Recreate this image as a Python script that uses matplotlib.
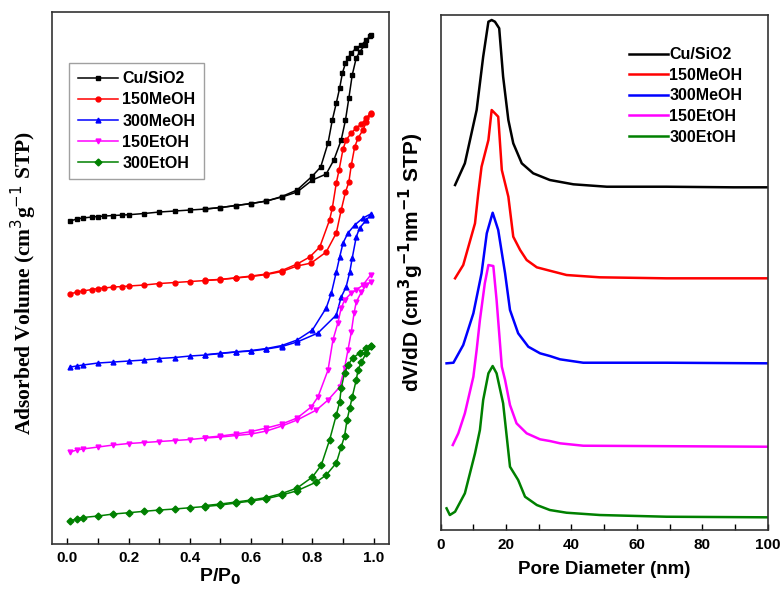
import numpy as np
import matplotlib
matplotlib.use('Agg')
import matplotlib.pyplot as plt

# ---- N2 isotherms (left), arbitrary units with vertical offsets ----
labels = ['Cu/SiO2', '150MeOH', '300MeOH', '150EtOH', '300EtOH']
colors = ['black', 'red', 'blue', 'magenta', 'green']
markers = ['s', 'o', '^', 'v', 'D']

cu_ads_x = [0.01, 0.03, 0.05, 0.08, 0.1, 0.12, 0.15, 0.18, 0.2, 0.25, 0.3, 0.35, 0.4, 0.45, 0.5, 0.55, 0.6,
            0.65, 0.7, 0.75, 0.8, 0.845, 0.87, 0.894, 0.908, 0.919, 0.93, 0.943, 0.954, 0.971, 0.987]
cu_ads_y = [323, 325, 326, 327, 327.5, 328, 328.5, 329, 329.3, 330.5, 332, 333, 334, 335, 336.5, 338.5, 340.5,
            343, 347, 352, 364, 370, 384, 404, 424, 446, 469, 486, 492, 499, 508]
cu_des_x = [0.992, 0.976, 0.96, 0.943, 0.927, 0.916, 0.908, 0.898, 0.889, 0.878, 0.865, 0.851, 0.827, 0.80,
            0.75, 0.7, 0.65, 0.6, 0.55, 0.5, 0.45]
cu_des_y = [509, 504, 499, 496, 491, 486, 481, 471, 456, 441, 424, 401, 377, 368,
            354, 347.5, 343, 340.5, 338.5, 336.5, 335]

m150_ads_x = [0.01, 0.03, 0.05, 0.08, 0.1, 0.12, 0.15, 0.18, 0.2, 0.25, 0.3, 0.35, 0.4, 0.45, 0.5, 0.55, 0.6,
              0.65, 0.7, 0.75, 0.796, 0.845, 0.878, 0.894, 0.908, 0.919, 0.927, 0.938, 0.949, 0.965, 0.976, 0.99]
m150_ads_y = [250, 252, 253, 254.5, 255.5, 256, 257, 257.5, 258, 259, 260.5, 261.5, 262.5, 263.5, 264.5, 266, 267.5,
              269.5, 272.5, 278, 281, 292, 311, 334, 352, 362, 379, 397, 406, 414, 422, 430]
m150_des_x = [0.99, 0.976, 0.96, 0.943, 0.927, 0.91, 0.9, 0.887, 0.878, 0.865, 0.856, 0.824, 0.791,
              0.75, 0.7, 0.65, 0.6, 0.55, 0.5, 0.45]
m150_des_y = [431, 426, 420, 416, 411, 404, 395, 374, 361, 336, 324, 297, 287,
              280, 273.5, 270, 268, 266.2, 264.7, 263.7]

m300_ads_x = [0.01, 0.03, 0.05, 0.1, 0.15, 0.2, 0.25, 0.3, 0.35, 0.4, 0.45, 0.5, 0.55, 0.6, 0.65, 0.7, 0.75,
              0.818, 0.878, 0.894, 0.91, 0.922, 0.93, 0.943, 0.954, 0.976, 0.99]
m300_ads_y = [177, 178, 179, 181, 182, 183, 184, 185.5, 186.5, 188, 189, 190.5, 192, 193, 195, 197.5, 202,
              211, 229, 247, 257, 272, 286, 307, 316, 324, 329]
m300_des_x = [0.99, 0.965, 0.938, 0.916, 0.90, 0.889, 0.878, 0.862, 0.845, 0.80, 0.75, 0.7, 0.65, 0.6,
              0.55, 0.5, 0.45]
m300_des_y = [330, 326, 319, 311, 301, 287, 272, 251, 236, 214, 204, 198.5, 195.5, 193.5,
              192.2, 190.8, 189.3]

e150_ads_x = [0.01, 0.03, 0.05, 0.1, 0.15, 0.2, 0.25, 0.3, 0.35, 0.4, 0.45, 0.5, 0.55, 0.6, 0.65, 0.7, 0.75,
              0.813, 0.851, 0.889, 0.905, 0.916, 0.927, 0.936, 0.943, 0.96, 0.976, 0.99]
e150_ads_y = [92, 94, 95, 97, 99, 100.5, 101.5, 102.5, 103.5, 104.5, 106, 107, 108.5, 110, 113, 118, 124,
              134, 144, 157, 176, 194, 212, 231, 242, 252, 259, 262]
e150_des_x = [0.99, 0.965, 0.943, 0.927, 0.905, 0.894, 0.883, 0.867, 0.851, 0.818, 0.796, 0.75, 0.7, 0.65,
              0.6, 0.55, 0.5, 0.45]
e150_des_y = [269, 259, 254, 251, 244, 236, 221, 204, 174, 147, 137, 126, 120, 116,
              112.5, 110, 108, 106.5]

e300_ads_x = [0.01, 0.03, 0.05, 0.1, 0.15, 0.2, 0.25, 0.3, 0.35, 0.4, 0.45, 0.5, 0.55, 0.6, 0.65, 0.7, 0.75,
              0.813, 0.845, 0.878, 0.894, 0.905, 0.913, 0.922, 0.93, 0.943, 0.949, 0.96, 0.976, 0.992]
e300_ads_y = [23.3, 25, 26.5, 28, 30, 31.3, 32.7, 34, 35, 36.3, 37.5, 39, 41, 43, 45.3, 49, 53.3,
              62, 69, 81, 97, 108, 124, 136, 147, 164, 174, 182, 191, 198]
e300_des_x = [0.992, 0.976, 0.954, 0.932, 0.916, 0.905, 0.894, 0.889, 0.878, 0.856, 0.829, 0.80, 0.75, 0.7,
              0.65, 0.6, 0.55, 0.5, 0.45]
e300_des_y = [198, 196, 191, 186, 179, 171, 156, 142, 129, 104, 79, 67, 56, 50.5,
              46.5, 44, 42, 40, 38.5]

iso = [(cu_ads_x, cu_ads_y, cu_des_x, cu_des_y),
       (m150_ads_x, m150_ads_y, m150_des_x, m150_des_y),
       (m300_ads_x, m300_ads_y, m300_des_x, m300_des_y),
       (e150_ads_x, e150_ads_y, e150_des_x, e150_des_y),
       (e300_ads_x, e300_ads_y, e300_des_x, e300_des_y)]

# ---- pore size distributions (right), arbitrary units with offsets ----
cu_d = [4.4, 7.4, 11.0, 13.0, 14.6, 15.6, 16.6, 17.9, 19.1, 20.7, 22.2, 24.8, 28.3, 33.4, 40.6, 50.8, 69, 89.5, 100]
cu_v = [345, 366.7, 420, 473.3, 508.3, 510, 508.3, 501.7, 453.3, 410, 386.7, 366.7, 356.7, 350, 345.7, 343.3,
        343.3, 342.7, 342.7]
m150_d = [4.4, 6.9, 10.5, 11.5, 12.5, 14.6, 15.6, 16.6, 17.6, 18.7, 20.2, 20.7, 22.2, 24.3, 26.3, 29.4, 33.4,
          38.5, 48.7, 69, 100]
m150_v = [251.7, 265, 306.7, 336.7, 363.3, 390, 420, 416.7, 413.3, 360, 340, 333.3, 293.3, 280, 270, 262.7,
          259.3, 255, 252.7, 251.7, 251.7]
m300_d = [1.8, 3.9, 6.9, 10.0, 12.5, 14.1, 15.9, 17.6, 19.7, 21.2, 23.7, 26.8, 30.4, 33.4, 36.5, 43.6, 69, 100]
m300_v = [166.7, 167.3, 185, 216.7, 256.7, 296.7, 317.3, 300, 256.7, 220, 196.7, 183.3, 176.7, 174, 170.7,
          167.3, 167.3, 166.7]
e150_d = [3.7, 5.4, 7.4, 10.0, 11.0, 12.0, 13.5, 14.6, 16.1, 17.1, 18.7, 19.7, 21.2, 23.2, 26.3, 30.4, 33.4,
          36.5, 43.6, 100]
e150_v = [85, 96.7, 116.7, 153.3, 180, 210, 246.7, 265, 264, 230, 163.3, 150, 125, 106.7, 96.7, 90.7, 89,
          86.7, 84.3, 83.3]
e300_d = [1.8, 2.8, 4.4, 7.4, 10.5, 12.0, 13.0, 14.6, 15.9, 17.1, 19.1, 21.2, 23.7, 25.8, 29.4, 33.4, 38.5,
          48.7, 69, 100]
e300_v = [21.7, 15, 18.3, 36.7, 76.7, 100, 130, 156.7, 164, 156.7, 126.7, 63.3, 50, 33.3, 25, 20, 17.3,
          15, 13.3, 12.7]

psd = [(cu_d, cu_v), (m150_d, m150_v), (m300_d, m300_v), (e150_d, e150_v), (e300_d, e300_v)]

fig = plt.figure(figsize=(7.83, 5.96), dpi=100)
ax1 = fig.add_axes([0.0664, 0.0872, 0.4304, 0.8926])
ax2 = fig.add_axes([0.5628, 0.1107, 0.4176, 0.8641])

sans = 'Liberation Sans'
serif = 'Liberation Serif'

for (ax_, ay_, dx_, dy_), lab, c, m in zip(iso, labels, colors, markers):
    ax1.plot(ax_, ay_, color=c, marker=m, ms=3.5, lw=1.1, label=lab)
    ax1.plot(dx_, dy_, color=c, marker=m, ms=3.5, lw=1.1)

ax1.set_xlim(-0.05, 1.05)
ax1.set_ylim(0, 532)
ax1.set_yticks([])
ax1.set_xticks(np.arange(0, 1.01, 0.2))
ax1.set_xticks(np.arange(0.1, 1.0, 0.2), minor=True)
ax1.set_xticklabels(['%.1f' % v for v in np.arange(0, 1.01, 0.2)], fontfamily=sans, fontweight='bold', fontsize=11)
ax1.tick_params(axis='x', which='both', direction='in', length=4, width=1, pad=5)
ax1.set_xlabel('P/P$_\\mathbf{0}$', fontfamily=sans, fontweight='bold', fontsize=14, labelpad=1)
ax1.set_ylabel('Adsorbed Volume (cm$^3$g$^{-1}$ STP)', fontfamily=serif, fontweight='bold', fontsize=15.5)
ax1.yaxis.set_label_coords(-0.04, 0.49)
leg1 = ax1.legend(loc='upper left', bbox_to_anchor=(0.05, 0.905), prop={'family': sans, 'weight': 'bold', 'size': 11.5},
                  fancybox=False, edgecolor='#888888', handlelength=2.5, labelspacing=0.38,
                  handletextpad=0.3, borderpad=0.55, borderaxespad=0, handleheight=0.7)
leg1.get_frame().set_linewidth(1.0)

for (d_, v_), lab, c in zip(psd, labels, colors):
    ax2.plot(d_, v_, color=c, lw=1.8, label=lab)

ax2.set_xlim(0, 100)
ax2.set_ylim(0, 515)
ax2.set_yticks([])
ax2.set_xticks(np.arange(0, 101, 20))
ax2.set_xticks(np.arange(10, 100, 20), minor=True)
ax2.set_xticklabels([str(v) for v in range(0, 101, 20)], fontfamily=sans, fontweight='bold', fontsize=11)
ax2.tick_params(axis='x', which='both', direction='in', length=4, width=1, pad=6)
ax2.set_xlabel('Pore Diameter (nm)', fontfamily=sans, fontweight='bold', fontsize=13.5, labelpad=6)
ax2.set_ylabel('dV/dD (cm$^\\mathbf{3}$g$^\\mathbf{-1}$nm$^\\mathbf{-1}$ STP)', fontfamily=sans, fontweight='bold',
               fontsize=15)
ax2.yaxis.set_label_coords(-0.045, 0.52)
ax2.legend(loc='upper left', bbox_to_anchor=(0.555, 0.95), frameon=False, borderaxespad=0,
           prop={'family': sans, 'weight': 'bold', 'size': 11.5}, handlelength=2.5, labelspacing=0.35,
           handletextpad=0.05)

for ax in (ax1, ax2):
    for s in ax.spines.values():
        s.set_linewidth(1.2)
        s.set_color('#333333')

fig.savefig('out.png', dpi=100)
